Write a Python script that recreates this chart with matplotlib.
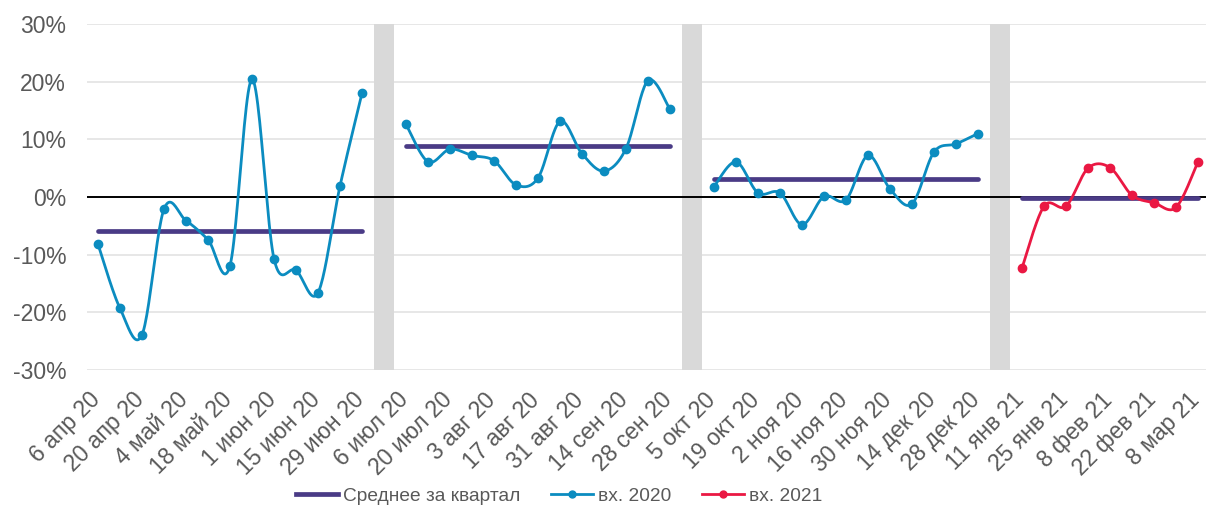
import numpy as np
import matplotlib
matplotlib.use('Agg')
import matplotlib.pyplot as plt
from matplotlib.lines import Line2D
from matplotlib.transforms import ScaledTranslation

plt.rcParams['font.family'] = ['Liberation Sans', 'DejaVu Sans']

# ---- data ----
tick_labels = ['6 апр 20', '20 апр 20', '4 май 20', '18 май 20', '1 июн 20', '15 июн 20', '29 июн 20',
               '6 июл 20', '20 июл 20', '3 авг 20', '17 авг 20', '31 авг 20', '14 сен 20', '28 сен 20',
               '5 окт 20', '19 окт 20', '2 ноя 20', '16 ноя 20', '30 ноя 20', '14 дек 20', '28 дек 20',
               '11 янв 21', '25 янв 21', '8 фев 21', '22 фев 21', '8 мар 21']
q2_2020 = [-8.2, -19.3, -23.9, -2.1, -4.1, -7.4, -11.9, 20.4, -10.7, -12.7, -16.6, 1.9, 18.0]
q3_2020 = [12.6, 6.1, 8.3, 7.2, 6.3, 2.1, 3.3, 13.1, 7.5, 4.5, 8.4, 20.2, 15.2]
q4_2020 = [1.8, 6.1, 0.7, 0.7, -4.8, 0.1, -0.5, 7.2, 1.4, -1.2, 7.8, 9.2, 11.0]
q1_2021 = [-12.3, -1.6, -1.6, 5.0, 5.1, 0.3, -1.0, -1.8, 6.1]
quarter_avg = [-5.9, 8.8, 3.1, -0.2]

BLUE = '#0b8cc0'
RED = '#ea1843'
PURPLE = '#4a3b86'
GREY = '#595959'
FS = 16.5


def smooth(x, y, n=24):
    x = np.asarray(x, float)
    y = np.asarray(y, float)
    px = np.concatenate([[x[0]], x, [x[-1]]])
    py = np.concatenate([[y[0]], y, [y[-1]]])
    xs, ys = [], []
    t = np.linspace(0, 1, n)
    for i in range(1, len(px) - 2):
        p0x, p1x, p2x, p3x = px[i - 1], px[i], px[i + 1], px[i + 2]
        p0y, p1y, p2y, p3y = py[i - 1], py[i], py[i + 1], py[i + 2]
        c1x = p1x + (p2x - p0x) / 6
        c1y = p1y + (p2y - p0y) / 6
        c2x = p2x - (p3x - p1x) / 6
        c2y = p2y - (p3y - p1y) / 6
        bx = (1 - t) ** 3 * p1x + 3 * (1 - t) ** 2 * t * c1x + 3 * (1 - t) * t ** 2 * c2x + t ** 3 * p2x
        by = (1 - t) ** 3 * p1y + 3 * (1 - t) ** 2 * t * c1y + 3 * (1 - t) * t ** 2 * c2y + t ** 3 * p2y
        xs.append(bx if i == 1 else bx[1:])
        ys.append(by if i == 1 else by[1:])
    return np.concatenate(xs), np.concatenate(ys)


fig = plt.figure(figsize=(12.06, 5.08), dpi=100)
ax = fig.add_axes([87 / 1206, (508 - 370) / 508, 1122 / 1206, 346 / 508])

series = [q2_2020, q3_2020, q4_2020, q1_2021]
colors = [BLUE, BLUE, BLUE, RED]
starts = []
s = 0
for vals in series:
    starts.append(s)
    s += len(vals) + 1
gaps = [st + len(v) for st, v in zip(starts[:-1], series[:-1])]
n_total = starts[-1] + len(series[-1])

# gap bars
for g in gaps:
    ax.bar(g, 60, bottom=-30, width=0.95, color='#d9d9d9', zorder=1)

# grid
for yv in [-30, -20, -10, 10, 20, 30]:
    ax.axhline(yv, color='#e3e3e3', lw=1.2, zorder=0)
ax.axhline(0, color='black', lw=1.4, zorder=2)

for vals, st, col, avg in zip(series, starts, colors, quarter_avg):
    x = np.arange(st, st + len(vals))
    ax.plot([x[0], x[-1]], [avg, avg], color=PURPLE, lw=3.4, solid_capstyle='round', zorder=3)
    sx, sy = smooth(x, vals)
    ax.plot(sx, sy, color=col, lw=2.0, zorder=4)
    ax.plot(x, vals, 'o', color=col, ms=6, zorder=5)

ax.set_xlim(-0.5, n_total - 0.5)
ax.set_ylim(-30, 30)
ax.set_yticks([-30, -20, -10, 0, 10, 20, 30])
ax.set_yticklabels([f'{v}%' for v in [-30, -20, -10, 0, 10, 20, 30]])
ax.set_xticks([])
ax.tick_params(axis='y', length=0, pad=15, labelsize=FS, labelcolor=GREY)
for sp in ax.spines.values():
    sp.set_visible(False)

# rotated category labels (every second week)
tick_pos = np.arange(0, n_total, 2)
off = ScaledTranslation(3 / 100, -31 / 100, fig.dpi_scale_trans)
for p, lab in zip(tick_pos, tick_labels):
    ax.text(p, 0, lab, transform=ax.get_xaxis_transform() + off, rotation=45,
            rotation_mode='anchor', ha='right', va='baseline', fontsize=FS, color=GREY, clip_on=False)

handles = [Line2D([], [], color=PURPLE, lw=3.4),
           Line2D([], [], color=BLUE, lw=2.0, marker='o', ms=5),
           Line2D([], [], color=RED, lw=2.0, marker='o', ms=5)]
labels = ['Среднее за квартал', 'вх. 2020', 'вх. 2021']
leg = fig.legend(handles, labels, loc='center', bbox_to_anchor=(559 / 1206, 12 / 508), ncol=3,
                 frameon=False, fontsize=13.8,
                 handlelength=2.2, handletextpad=0.25, columnspacing=1.6)
for t in leg.get_texts():
    t.set_color(GREY)

fig.savefig('out.png', dpi=100)
